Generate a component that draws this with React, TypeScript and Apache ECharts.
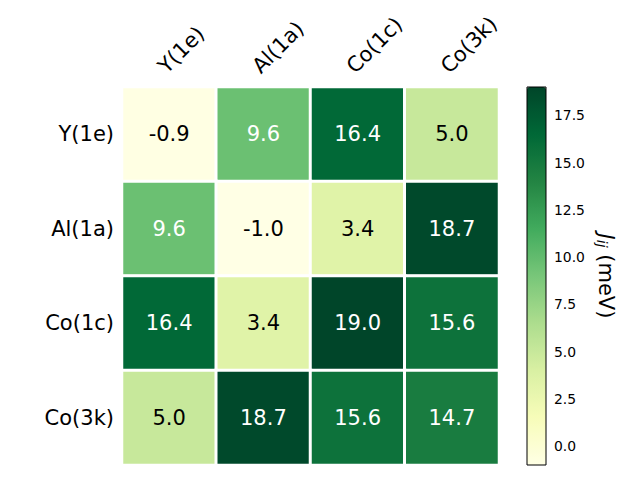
import React, { useEffect, useRef } from "react";
import * as echarts from "echarts";

const sites = ["Y(1e)", "Al(1a)", "Co(1c)", "Co(3k)"];
const row0 = [-0.9, 9.6, 16.4, 5.0];
const row1 = [9.6, -1.0, 3.4, 18.7];
const row2 = [16.4, 3.4, 19.0, 15.6];
const row3 = [5.0, 18.7, 15.6, 14.7];
const rows = [row0, row1, row2, row3];
const cbTicks = [0, 2.5, 5, 7.5, 10, 12.5, 15, 17.5];
const vmin = -1.0;
const vmax = 19.0;
const ylgn = ["#ffffe5", "#f7fcb9", "#d9f0a3", "#addd8e", "#78c679", "#41ab5d", "#238443", "#006837", "#004529"];

const FONT = "DejaVu Sans";

export default function App() {
  const ref = useRef<HTMLDivElement>(null);
  useEffect(() => {
    const chart = echarts.init(ref.current!, null, { renderer: "svg" });
    const data: any[] = [];
    rows.forEach((r, i) =>
      r.forEach((v, j) => {
        data.push({
          value: [j, i, v],
          label: { color: v > 9 ? "#ffffff" : "#000000" },
        });
      })
    );
    chart.setOption({
      animation: false,
      backgroundColor: "#ffffff",
      textStyle: { fontFamily: FONT },
      grid: [
        { left: 122, top: 87, width: 377, height: 378 },
        { left: 527, top: 87, width: 19, height: 378 },
      ],
      xAxis: [
        {
          type: "category",
          data: sites,
          position: "top",
          gridIndex: 0,
          axisLine: { show: false },
          axisTick: { alignWithLabel: true, length: 4, lineStyle: { color: "#000" } },
          axisLabel: {
            rotate: -45,
            fontSize: 21,
            color: "#000",
            fontFamily: FONT,
            margin: 10,
            align: "left",
            verticalAlign: "bottom",
          },
          splitLine: { show: false },
        },
        { type: "value", gridIndex: 1, show: false, min: 0, max: 1 },
      ],
      yAxis: [
        {
          type: "category",
          data: sites,
          inverse: true,
          gridIndex: 0,
          axisLine: { show: false },
          axisTick: { alignWithLabel: true, length: 4, lineStyle: { color: "#000" } },
          axisLabel: { fontSize: 21, color: "#000", fontFamily: FONT, margin: 8 },
          splitLine: { show: false },
        },
        {
          type: "value",
          gridIndex: 1,
          position: "right",
          min: vmin,
          max: vmax,
          axisLine: { show: false },
          splitLine: { show: false },
          axisTick: { show: true, length: 4, customValues: cbTicks, lineStyle: { color: "#000" } },
          axisLabel: {
            customValues: cbTicks,
            formatter: (v: number) => v.toFixed(1),
            fontSize: 13.9,
            color: "#000",
            fontFamily: FONT,
            margin: 8,
          },
          name: "{j|J}{s|ij} (meV)",
          nameLocation: "middle",
          nameRotate: -90,
          nameGap: 49,
          nameTextStyle: {
            fontSize: 21,
            color: "#000",
            fontFamily: FONT,
            rich: {
              j: { fontSize: 21, fontStyle: "italic", fontFamily: FONT, color: "#000" },
              s: { fontSize: 14, fontStyle: "italic", fontFamily: FONT, color: "#000", verticalAlign: "bottom", padding: [8, 0, 0, 0] },
            },
          },
        },
      ],
      visualMap: {
        type: "continuous",
        min: vmin,
        max: vmax,
        seriesIndex: 0,
        dimension: 2,
        calculable: false,
        show: true,
        left: 527,
        top: 87,
        padding: 0,
        itemWidth: 19,
        itemHeight: 378,
        text: ["", ""],
        showLabel: false,
        inRange: { color: ylgn },
      },
      graphic: [
        {
          type: "rect",
          z: 100,
          shape: { x: 527, y: 87, width: 19, height: 378 },
          style: { fill: "none", stroke: "#000", lineWidth: 1 },
        },
      ],
      series: [
        {
          type: "heatmap",
          xAxisIndex: 0,
          yAxisIndex: 0,
          data,
          itemStyle: { borderColor: "#ffffff", borderWidth: 3 },
          label: {
            show: true,
            fontSize: 21,
            fontFamily: FONT,
            formatter: (p: any) => p.value[2].toFixed(1),
          },
          emphasis: { disabled: true },
        },
      ],
    });
    return () => chart.dispose();
  }, []);
  return <div ref={ref} style={{ width: 640, height: 480, position: "absolute", left: 0, top: 0 }} />;
}
